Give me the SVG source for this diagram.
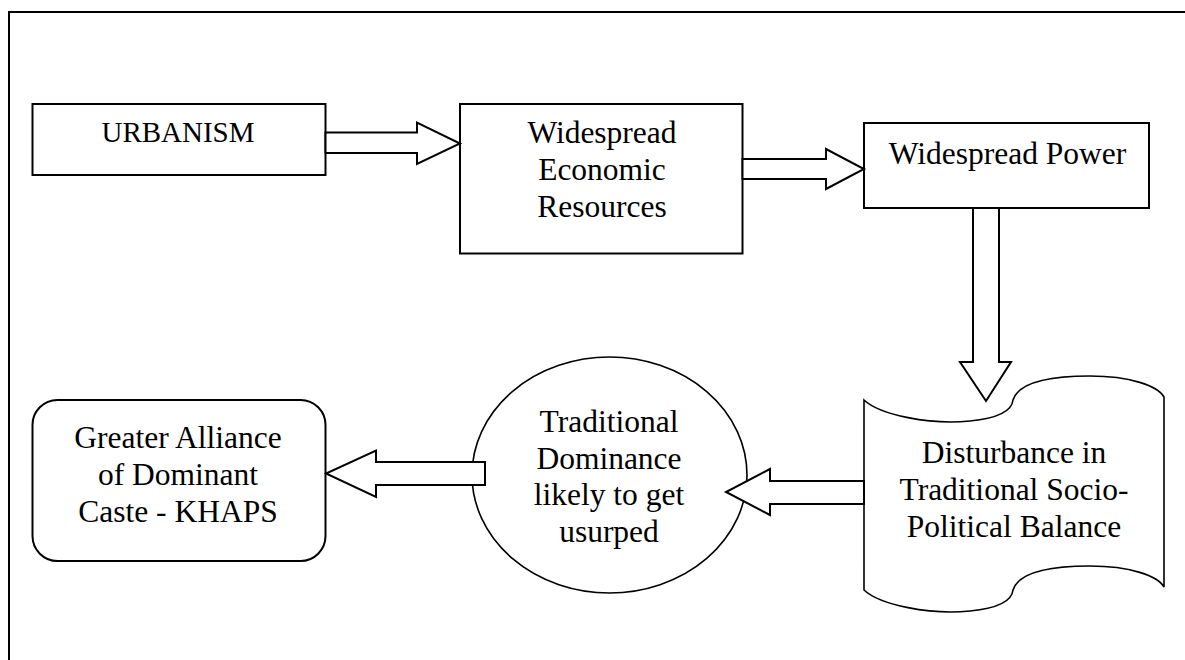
<svg xmlns="http://www.w3.org/2000/svg" width="1185" height="660" viewBox="0 0 1185 660">
<style>
.shape{fill:#fff;stroke:#000;stroke-width:2}
.thin{fill:#fff;stroke:#000;stroke-width:1.6}
.arrow{fill:#fff;stroke:#000;stroke-width:2;stroke-linejoin:miter}
.lbl{font-family:'Liberation Serif','Times New Roman',serif;font-size:31.5px;fill:#000;text-anchor:middle}
</style>
<rect x="0" y="0" width="1185" height="660" fill="#fff"/>
<path d="M9,660 V12 H1185" fill="none" stroke="#000" stroke-width="2"/>

<g id="urbanism">
<rect class="shape" x="32.5" y="104" width="293" height="71"/>
<text class="lbl" x="178" y="141.5" style="font-size:29px">URBANISM</text>
</g>

<g id="economic">
<rect class="shape" x="460" y="104" width="282.5" height="149.5"/>
<text class="lbl" x="602" y="142.5">Widespread</text>
<text class="lbl" x="602" y="180">Economic</text>
<text class="lbl" x="602" y="217">Resources</text>
</g>

<g id="power">
<rect class="shape" x="864" y="123" width="285" height="85"/>
<text class="lbl" x="1007.5" y="164">Widespread Power</text>
</g>

<g id="disturbance">
<path class="thin" d="M864,400 C880,415 930,425 970,421 C1000,418 1012,410 1013,400 C1018,384 1045,376 1090,376 C1130,376 1158,386 1164,397 L1164,587 C1158,576 1130,566 1090,566 C1045,566 1018,574 1013,590 C1012,600 1000,608 970,611 C930,615 880,605 864,590 Z"/>
<text class="lbl" x="1014" y="463">Disturbance in</text>
<text class="lbl" x="1014" y="500">Traditional Socio-</text>
<text class="lbl" x="1014" y="537">Political Balance</text>
</g>

<g id="dominance">
<ellipse class="thin" cx="609.5" cy="475" rx="137.5" ry="118"/>
<text class="lbl" x="609" y="431.5">Traditional</text>
<text class="lbl" x="609" y="468.5">Dominance</text>
<text class="lbl" x="609" y="505">likely to get</text>
<text class="lbl" x="609" y="541.5">usurped</text>
</g>

<g id="alliance">
<rect class="shape" x="32.5" y="400" width="293" height="161" rx="25" ry="25"/>
<text class="lbl" x="178" y="448">Greater Alliance</text>
<text class="lbl" x="178" y="485">of Dominant</text>
<text class="lbl" x="178" y="522">Caste - KHAPS</text>
</g>

<g id="connectors">
<polygon class="arrow" points="325.5,132.5 417,132.5 417,122.5 460,143.5 417,164 417,153 325.5,153"/>
<polygon class="arrow" points="742.5,159 826,159 826,149 864,169 826,189 826,179 742.5,179"/>
<polygon class="arrow" points="973,208 999,208 999,362 1011,362 986,401 960,362 973,362"/>
<polygon class="arrow" points="864,481 770,481 770,469 726,492 770,515 770,504 864,504"/>
<polygon class="arrow" points="485,462 376,462 376,450.5 326,473.5 376,497 376,485 485,485"/>
</g>
</svg>
